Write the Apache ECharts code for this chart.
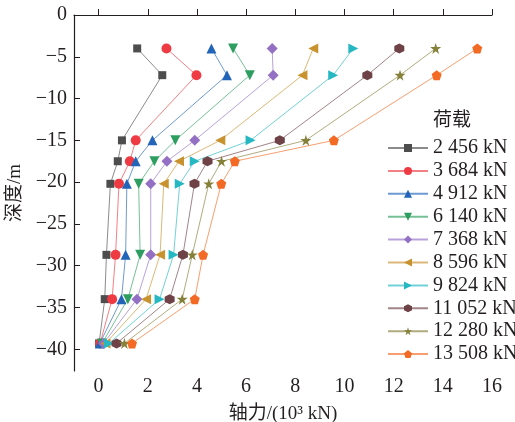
<!DOCTYPE html>
<html>
<head>
<meta charset="utf-8">
<script src="https://cdn.jsdelivr.net/npm/echarts@6/dist/echarts.min.js"></script>
<style>html,body{margin:0;padding:0;background:#fff;}#c{width:515px;height:422px;}</style>
</head>
<body>
<div id="c"></div>
<script>
const depths = [-4, -7.2, -15, -17.5, -20.2, -28.7, -34, -39.3];
const loadNames = ['2 456 kN','3 684 kN','4 912 kN','6 140 kN','7 368 kN','8 596 kN','9 824 kN','11 052 kN','12 280 kN','13 508 kN'];
const s2456  = [1.57, 2.59, 0.95, 0.78, 0.48, 0.32, 0.25, 0.02];
const s3684  = [2.76, 3.98, 1.51, 1.27, 0.83, 0.69, 0.55, 0.06];
const s4912  = [4.59, 5.22, 2.19, 1.51, 1.15, 1.10, 0.93, 0.05];
const s6140  = [5.47, 6.15, 3.12, 2.27, 1.63, 1.69, 1.19, 0.14];
const s7368  = [7.06, 7.10, 3.91, 2.78, 2.12, 2.12, 1.56, 0.20];
const s8596  = [8.73, 8.29, 4.95, 3.27, 2.65, 2.50, 1.93, 0.28];
const s9824  = [10.36, 9.54, 6.18, 3.91, 3.30, 3.05, 2.48, 0.42];
const s11052 = [12.23, 10.93, 7.37, 4.43, 3.90, 3.43, 2.89, 0.73];
const s12280 = [13.71, 12.26, 8.43, 5.00, 4.48, 3.81, 3.40, 1.05];
const s13508 = [15.40, 13.75, 9.57, 5.54, 4.99, 4.25, 3.91, 1.36];
const xTicks = [0, 2, 4, 6, 8, 10, 12, 14, 16];
const yTicks = [0, -5, -10, -15, -20, -25, -30, -35, -40];

const allSeries = [s2456, s3684, s4912, s6140, s7368, s8596, s9824, s11052, s12280, s13508];
const markerColors = ['#4d4d4d','#ee3b43','#2264b8','#2e9e60','#9470c4','#c8922e','#26b8c2','#6e4246','#85803a','#f26a24'];
const symbols = [
  'rect',
  'circle',
  'path://M5,0L10,9L0,9z',
  'path://M0,0L10,0L5,9z',
  'diamond',
  'path://M9,0L9,10L0,5z',
  'path://M0,0L0,10L9,5z',
  'path://M5,0L9.33,2.5L9.33,7.5L5,10L0.67,7.5L0.67,2.5z',
  'path://M5,0L6.18,3.62L10,3.62L6.91,5.86L8.09,9.51L5,7.24L1.91,9.51L3.09,5.86L0,3.62L3.82,3.62z',
  'path://M5,0L10,3.63L8.09,9.51L1.91,9.51L0,3.63z'
];
const sizes = [8, 10, 10, 10, 11, 10, 10, 10, 11, 10];

const font = "'Liberation Serif','Times New Roman','Noto Sans CJK SC',serif";

const chart = echarts.init(document.getElementById('c'), null, {renderer: 'canvas'});
chart.setOption({
  animation: false,
  backgroundColor: '#fff',
  grid: {left: 74, right: 23, top: 15, bottom: 51, containLabel: false, outerBoundsMode: 'none'},
  title: {
    text: '荷载', left: 428, top: 107,
    textStyle: {fontFamily: font, fontSize: 19, fontWeight: 'normal', color: '#231f20'}
  },
  legend: {
    orient: 'vertical', left: 382, top: 133,
    itemWidth: 40, itemHeight: 10, itemGap: 2.9,
    textStyle: {fontFamily: font, fontSize: 20, color: '#231f20'},
    data: loadNames
  },
  xAxis: {
    type: 'value', min: -1, max: 16,
    name: '轴力/(10³ kN)', nameLocation: 'middle', nameGap: 34,
    nameTextStyle: {fontFamily: font, fontSize: 19, color: '#231f20'},
    axisLine: {show: true, lineStyle: {color: '#231f20', width: 1.2}},
    axisTick: {show: true, inside: true, length: 6, customValues: xTicks, lineStyle: {color: '#231f20'}},
    axisLabel: {customValues: xTicks, fontFamily: font, fontSize: 20, color: '#231f20', margin: 6},
    splitLine: {show: false}
  },
  yAxis: {
    type: 'value', min: -42.6, max: 0,
    name: '深度/m', nameLocation: 'middle', nameGap: 47, nameRotate: 90,
    nameTextStyle: {fontFamily: font, fontSize: 19, color: '#231f20'},
    axisLine: {show: true, onZero: false, lineStyle: {color: '#231f20', width: 1.2}},
    axisTick: {show: true, inside: true, length: 6, customValues: yTicks, lineStyle: {color: '#231f20'}},
    axisLabel: {customValues: yTicks, fontFamily: font, fontSize: 20, color: '#231f20', margin: 7,
      formatter: v => (v < 0 ? '\u2212' + Math.abs(v) : String(v))},
    splitLine: {show: false}
  },
  series: allSeries.map((vals, i) => ({
    name: loadNames[i],
    type: 'line',
    data: vals.map((v, j) => [v, depths[j]]),
    symbol: symbols[i],
    symbolSize: sizes[i],
    showAllSymbol: true,
    itemStyle: {color: markerColors[i], opacity: 1},
    lineStyle: {color: markerColors[i], width: 1, opacity: 0.65},
    emphasis: {disabled: true}
  }))
});
</script>
</body>
</html>
